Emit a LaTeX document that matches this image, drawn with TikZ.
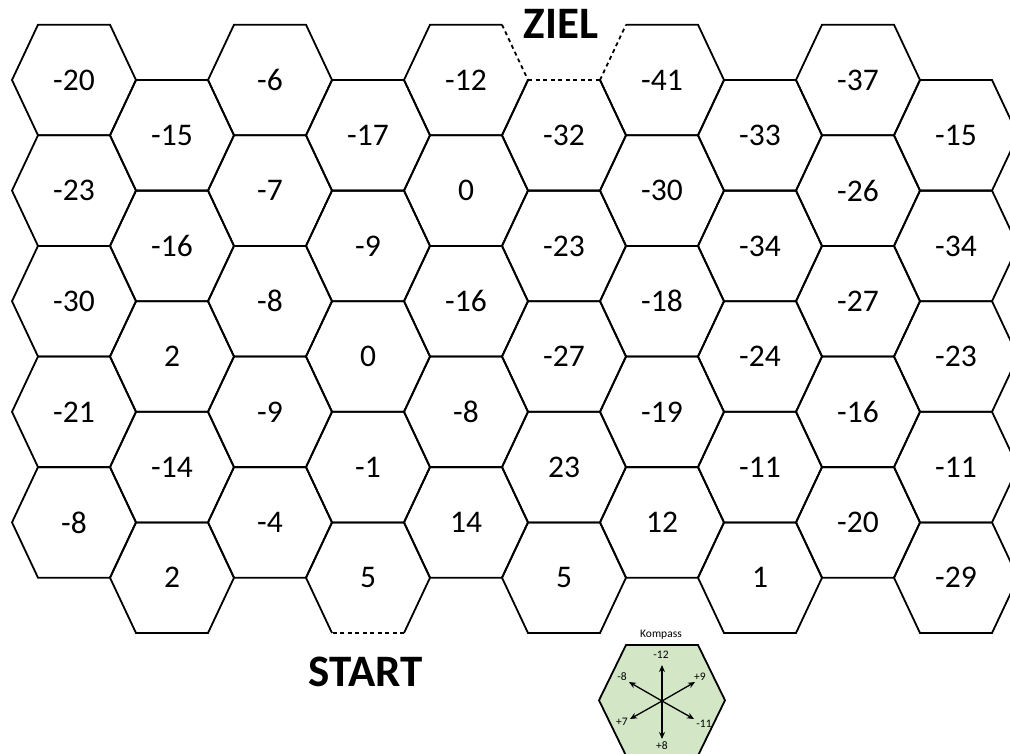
\documentclass[tikz,border=0pt]{standalone}
\usepackage{fontspec}
\setmainfont{Carlito}
\usetikzlibrary{arrows.meta}
\definecolor{kgreen}{HTML}{D3E7C6}
\tikzset{
  hexline/.style={draw=black,line width=1.8pt,line join=miter},
  dashline/.style={draw=black,line width=1.8pt,dash pattern=on 4pt off 3.5pt},
  num/.style={inner sep=0pt,font=\fontsize{31.5}{31.5}\selectfont},
  bigword/.style={inner sep=0pt,anchor=base,font=\fontsize{45}{45}\selectfont\bfseries},
  karrow/.style={draw=black,line width=1.3pt,-{Stealth[length=7pt,width=6pt]}},
  klabel/.style={inner sep=0pt,font=\fontsize{11.5}{11.5}\selectfont},
}
\newcommand{\mkcell}[3]{%
  \pgfmathsetmacro\cx{74+(#1-1)*98}%
  \pgfmathsetmacro\cy{80+#2*110.6+mod(#1+1,2)*55.3}%
  \coordinate (h#1-#2-0) at (\cx-62,\cy);
  \coordinate (h#1-#2-1) at (\cx-36,\cy-55.3);
  \coordinate (h#1-#2-2) at (\cx+36,\cy-55.3);
  \coordinate (h#1-#2-3) at (\cx+62,\cy);
  \coordinate (h#1-#2-4) at (\cx+36,\cy+55.3);
  \coordinate (h#1-#2-5) at (\cx-36,\cy+55.3);
  \node[num] (n#1-#2) at (\cx,\cy) {#3};
}
\newcommand{\fullhex}[2]{\draw[hexline] (h#1-#2-0)--(h#1-#2-1)--(h#1-#2-2)--(h#1-#2-3)--(h#1-#2-4)--(h#1-#2-5)--cycle;}
\newcommand{\cell}[3]{\mkcell{#1}{#2}{#3}\fullhex{#1}{#2}}
\begin{document}
\begin{tikzpicture}[x=1pt,y=-1pt]
\useasboundingbox[fill=white] (0,0) rectangle (1010,753);
% column 1
\cell{1}{0}{-20}\cell{1}{1}{-23}\cell{1}{2}{-30}\cell{1}{3}{-21}\cell{1}{4}{-8}
% column 2
\cell{2}{0}{-15}\cell{2}{1}{-16}\cell{2}{2}{2}\cell{2}{3}{-14}\cell{2}{4}{2}
% column 3
\cell{3}{0}{-6}\cell{3}{1}{-7}\cell{3}{2}{-8}\cell{3}{3}{-9}\cell{3}{4}{-4}
% column 4
\cell{4}{0}{-17}\cell{4}{1}{-9}\cell{4}{2}{0}\cell{4}{3}{-1}
\mkcell{4}{4}{5}
\draw[hexline] (h4-4-5)--(h4-4-0)--(h4-4-1)--(h4-4-2)--(h4-4-3)--(h4-4-4);
\draw[dashline] (h4-4-4)--(h4-4-5);
% column 5
\mkcell{5}{0}{-12}
\draw[hexline] (h5-0-3)--(h5-0-4)--(h5-0-5)--(h5-0-0)--(h5-0-1)--(h5-0-2);
\draw[dashline] (h5-0-2)--(h5-0-3);
\cell{5}{1}{0}\cell{5}{2}{-16}\cell{5}{3}{-8}\cell{5}{4}{14}
% column 6
\mkcell{6}{0}{-32}
\draw[hexline] (h6-0-2)--(h6-0-3)--(h6-0-4)--(h6-0-5)--(h6-0-0)--(h6-0-1);
\draw[dashline] (h6-0-1)--(h6-0-2);
\cell{6}{1}{-23}\cell{6}{2}{-27}\cell{6}{3}{23}\cell{6}{4}{5}
% column 7
\mkcell{7}{0}{-41}
\draw[hexline] (h7-0-1)--(h7-0-2)--(h7-0-3)--(h7-0-4)--(h7-0-5)--(h7-0-0);
\draw[dashline] (h7-0-0)--(h7-0-1);
\cell{7}{1}{-30}\cell{7}{2}{-18}\cell{7}{3}{-19}\cell{7}{4}{12}
% column 8
\cell{8}{0}{-33}\cell{8}{1}{-34}\cell{8}{2}{-24}\cell{8}{3}{-11}\cell{8}{4}{1}
% column 9
\cell{9}{0}{-37}\cell{9}{1}{-26}\cell{9}{2}{-27}\cell{9}{3}{-16}\cell{9}{4}{-20}
% column 10
\cell{10}{0}{-15}\cell{10}{1}{-34}\cell{10}{2}{-23}\cell{10}{3}{-11}\cell{10}{4}{-29}
% labels
\node[bigword] (ziel) at (561,38) {ZIEL};
\node[bigword] (start) at (366,686) {START};
% compass
\draw[hexline,fill=kgreen] (599,700.3) -- (626,645) -- (698,645) -- (725,700.3) -- (698,755.6) -- (626,755.6) -- cycle;
\node[klabel] (kompass) at (661,635) {Kompass};
\coordinate (kc) at (662,701);
\coordinate (kN) at (662,665);
\coordinate (kS) at (662,739);
\coordinate (kUL) at (629,682);
\coordinate (kUR) at (695,682);
\coordinate (kLL) at (630,719);
\coordinate (kLR) at (694,719);
\draw[karrow] (kc) -- (kN);
\draw[karrow] (kc) -- (kS);
\draw[karrow] (kc) -- (kUL);
\draw[karrow] (kc) -- (kUR);
\draw[karrow] (kc) -- (kLL);
\draw[karrow] (kc) -- (kLR);
\node[klabel] (lN) at (661,655) {-12};
\node[klabel] (lS) at (662,746) {+8};
\node[klabel] (lUL) at (622,677) {-8};
\node[klabel] (lUR) at (700,677) {+9};
\node[klabel] (lLL) at (622,722) {+7};
\node[klabel] (lLR) at (704,724) {-11};
\end{tikzpicture}
\end{document}
